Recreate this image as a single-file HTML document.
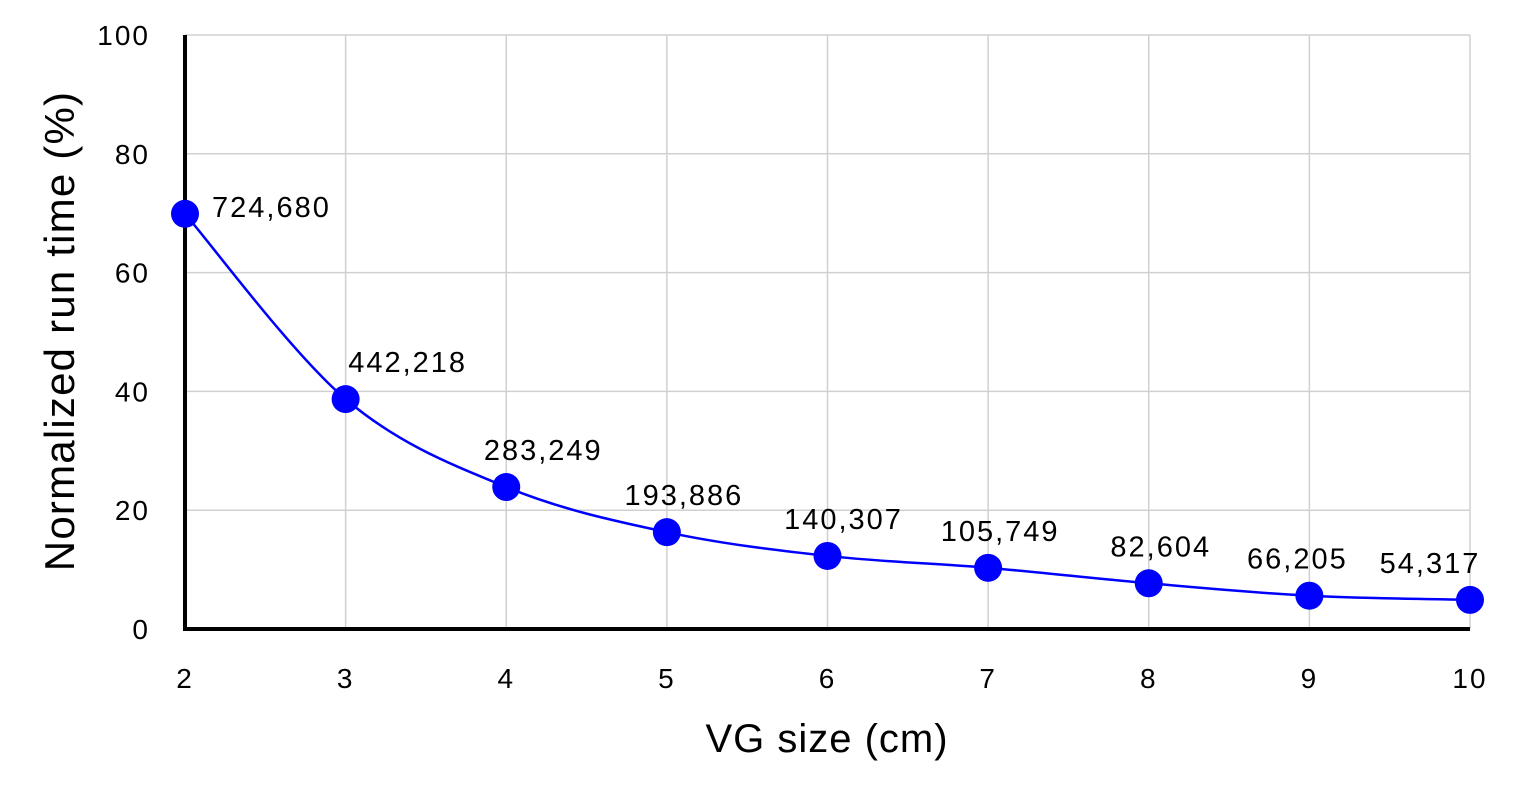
<!DOCTYPE html>
<html><head><meta charset="utf-8"><style>
body{margin:0;background:#fff;}
svg text{font-family:"Liberation Sans",sans-serif;fill:#000;}
</style></head><body>
<svg id="chart" width="1513" height="792" viewBox="0 0 1513 792" xmlns="http://www.w3.org/2000/svg">
<g id="grid"></g>
<g id="axes"></g>
<g id="series"></g>
<text x="827" y="752" font-size="40" letter-spacing="1" text-anchor="middle">VG size (cm)</text>
<text transform="translate(74,331) rotate(-90)" font-size="42" letter-spacing="1.2" text-anchor="middle">Normalized run time (%)</text>
</svg>
<script>
const categories=[2,3,4,5,6,7,8,9,10];
const values=[69.9,38.7,23.9,16.3,12.3,10.3,7.7,5.6,4.9];
const pointLabels=["724,680","442,218","283,249","193,886","140,307","105,749","82,604","66,205","54,317"];
const yTicks=[0,20,40,60,80,100];
const NS="http://www.w3.org/2000/svg";
const x0=185,x1=1470,y0=629,y1=35;
const xs=v=>x0+(v-2)/(10-2)*(x1-x0);
const ys=v=>y0-v/100*(y0-y1);
function mk(tag,attrs,parent){const e=document.createElementNS(NS,tag);for(const k in attrs)e.setAttribute(k,attrs[k]);parent.appendChild(e);return e;}
const grid=document.getElementById('grid'),axes=document.getElementById('axes'),series=document.getElementById('series');
yTicks.forEach(t=>{
  const l=mk('line',{x1:x0,x2:x1,y1:ys(t),y2:ys(t),stroke:'#d0d0d0','stroke-width':1.5},grid);
  
  
  const tx=mk('text',{x:150,y:ys(t)+10,'font-size':28,'letter-spacing':2,'text-anchor':'end'},axes);
  tx.textContent=t;
  
  
});
categories.forEach(c=>{
  const l=mk('line',{x1:xs(c),x2:xs(c),y1:y1,y2:y0,stroke:'#d0d0d0','stroke-width':1.5},grid);
  
  
  const tx=mk('text',{x:xs(c),y:688,'font-size':28,'letter-spacing':2,'text-anchor':'middle'},axes);
  tx.textContent=c;
  
  
});
const ya=mk('line',{x1:x0,x2:x0,y1:y1,y2:y0+2,stroke:'#000','stroke-width':4},axes);


const xa=mk('line',{x1:x0-2,x2:x1,y1:y0,y2:y0,stroke:'#000','stroke-width':4},axes);


const pts=categories.map((c,i)=>[xs(c),ys(values[i])]);
let d=`M${pts[0][0]},${pts[0][1]}`;
for(let i=0;i<pts.length-1;i++){
  const p0=pts[Math.max(i-1,0)],p1=pts[i],p2=pts[i+1],p3=pts[Math.min(i+2,pts.length-1)];
  const t=0.5/3;
  d+=` C${p1[0]+(p2[0]-p0[0])*t},${p1[1]+(p2[1]-p0[1])*t} ${p2[0]-(p3[0]-p1[0])*t},${p2[1]-(p3[1]-p1[1])*t} ${p2[0]},${p2[1]}`;
}
const path=mk('path',{d:d,fill:'none',stroke:'#0000ff','stroke-width':2.5},series);


const lblDx=[0,62,37,17,16,12,12,-12,-40];
pts.forEach((p,i)=>{
  const c=mk('circle',{cx:p[0],cy:p[1],r:14,fill:'#0000ff'},series);
  
  
  let tx;
  if(i===0){tx=mk('text',{x:p[0]+27,y:p[1]+3,'font-size':29,'letter-spacing':2,'text-anchor':'start'},series);}
  else{tx=mk('text',{x:p[0]+lblDx[i],y:p[1]-27,'font-size':29,'letter-spacing':2,'text-anchor':'middle'},series);}
  tx.textContent=pointLabels[i];
  
  
});
</script>
</body></html>
